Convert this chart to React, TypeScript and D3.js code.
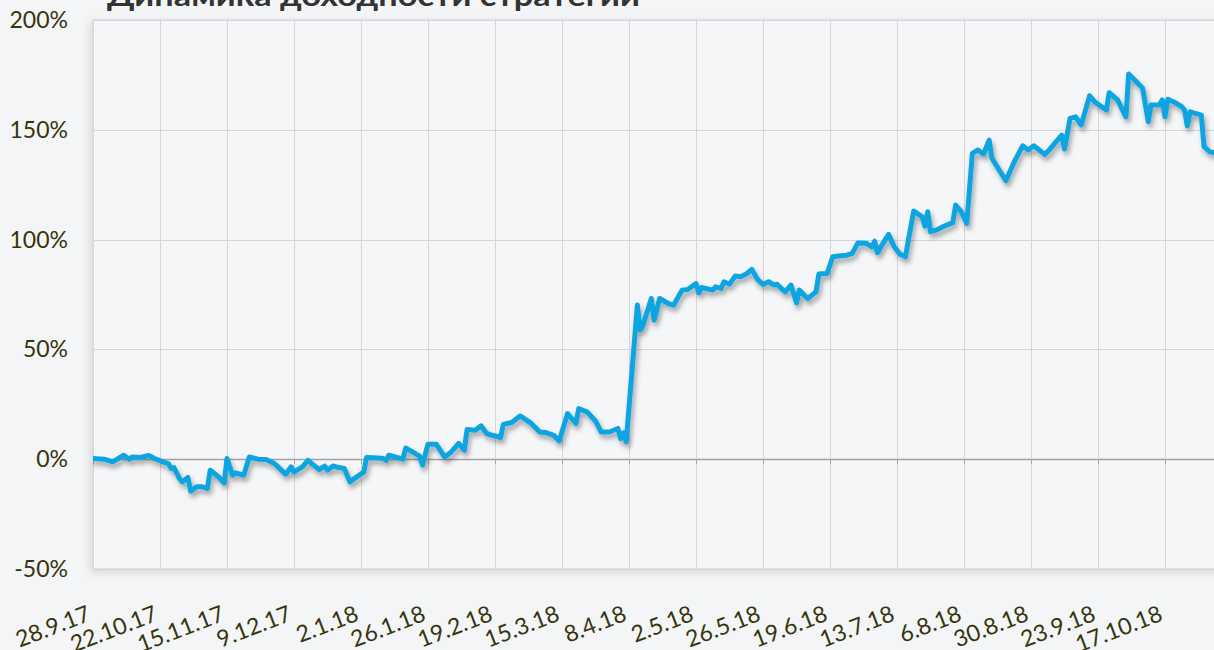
import React from "react";
import * as d3 from "d3";

const startDate = new Date(2017, 8, 28);
const tickLabels = [
  "28.9.17", "22.10.17", "15.11.17", "9.12.17", "2.1.18", "26.1.18", "19.2.18", "15.3.18",
  "8.4.18", "2.5.18", "26.5.18", "19.6.18", "13.7.18", "6.8.18", "30.8.18", "23.9.18", "17.10.18",
];
const tickStepDays = 24;
const yTicks = [-50, 0, 50, 100, 150, 200];

// days since 28.9.17
const days = [
  0, 4, 7, 9, 11, 13, 14, 17, 20, 22, 25, 27, 28, 29, 31, 32, 34, 35, 37, 39, 41, 42, 45, 47, 48, 50, 51, 54, 56, 59,
  62, 65, 69, 71, 72, 75, 77, 79, 81, 83, 84, 86, 88, 90, 92, 94, 97, 98, 102, 104, 105, 106, 111, 112, 115, 117, 118,
  120, 123, 126, 128, 131, 133, 134, 137, 139, 141, 143, 146, 147, 150, 153, 157, 160, 162, 165, 167, 170, 172, 173,
  174, 177, 180, 182, 185, 188, 189, 190, 191, 195, 196, 197, 200, 201, 203, 206, 208, 211, 213, 216, 217, 218, 222,
  223, 225, 226, 228, 230, 232, 234, 236, 238, 240, 242, 244, 245, 247, 248, 250, 252, 253, 256, 259, 260, 263, 265,
  267, 270, 272, 274, 277, 279, 280, 281, 283, 285, 287, 289, 291, 294, 297, 298, 299, 300, 302, 305, 308, 309, 311,
  313, 315, 317, 319, 321, 322, 325, 327, 330, 333, 335, 337, 341, 343, 347, 348, 350, 352, 354, 357, 359, 363, 364,
  367, 370, 371, 376, 378, 379, 382, 383, 384, 385, 387, 390, 391, 392, 393, 397, 398, 400, 402,
];
// strategy return, %
const returns = [
  0.3, 0, -1.2, 0.3, 1.8, 0, 1.0, 0.8, 1.7, 0.3, -1.2, -2.0, -4.2, -3.8, -8.8, -10.3, -8.3, -14.6, -12.6, -12.6, -13.3,
  -5.0, -8.1, -10.8, 0.3, -7.3, -6.2, -7.3, 1.0, 0, -0.1, -2.0, -6.8, -3.5, -5.8, -3.5, -0.5, -2.7, -4.7, -3.2, -5.0,
  -3.1, -3.8, -4.2, -10.3, -8.5, -5.8, 0.8, 0.6, 0.3, -0.5, 1.8, 0, 5.1, 2.9, 1.4, -2.7, 6.8, 6.8, 1.0, 2.9, 7.2, 4.1,
  13.5, 13.2, 15.2, 11.7, 10.9, 9.9, 15.8, 16.7, 19.7, 16.3, 12.4, 12.2, 10.9, 8.3, 20.8, 17.8, 16.3, 23.1, 21.5, 17.4,
  12.4, 12.4, 14.0, 9.4, 12.0, 7.9, 70.2, 58.8, 61.0, 73.2, 63.3, 73.2, 70.9, 70.2, 77.0, 77.3, 80.0, 75.8, 78.2, 77.0,
  78.5, 77.8, 80.8, 79.7, 83.4, 83.1, 84.3, 86.4, 81.9, 79.6, 80.8, 79.3, 79.7, 77.3, 76.2, 79.3, 71.2, 77.0, 73.2,
  76.2, 84.3, 84.6, 92.2, 92.5, 92.9, 93.7, 98.5, 98.3, 96.7, 99.3, 94.0, 98.3, 102.4, 96.7, 93.4, 92.2, 113.0, 110.4,
  106.2, 112.7, 103.6, 104.3, 106.2, 107.7, 115.7, 112.7, 107.4, 139.3, 140.8, 139.0, 145.3, 137.1, 130.9, 126.8,
  135.4, 142.7, 140.8, 142.7, 138.8, 141.5, 147.6, 141.2, 155.2, 155.9, 152.2, 165.5, 162.5, 159.0, 166.9, 163.6,
  155.9, 175.4, 168.9, 153.7, 161.3, 161.3, 163.6, 155.9, 163.9, 162.8, 160.5, 159.0, 151.7, 158.2, 156.7, 142.3,
  140.0, 139.5,
];

const W = 1214;
const H = 650;
const FONT = "Lato, 'Open Sans', sans-serif";
const TEXT = "#35350c";

const addDays = (d: Date, n: number) => d3.timeDay.offset(d, n);

export default function App() {
  const x = d3
    .scaleTime()
    .domain([startDate, addDays(startDate, tickStepDays * (tickLabels.length - 1))])
    .range([93, 1165]);
  const y = d3.scaleLinear().domain([-50, 200]).range([569, 20]);
  const plotLeft = 93;
  const plotRight = 1240;
  const data = days.map((d, i) => ({ date: addDays(startDate, d), v: returns[i] }));
  const line = d3
    .line<{ date: Date; v: number }>()
    .x((d) => x(d.date))
    .y((d) => y(d.v))
    .curve(d3.curveLinear);

  const gridDates: Date[] = [];
  for (let i = 0; ; i++) {
    const dt = addDays(startDate, i * tickStepDays);
    if (x(dt) > W) break;
    gridDates.push(dt);
  }

  return (
    <svg
      width={W}
      height={H}
      style={{ position: "absolute", left: 0, top: 0, display: "block" }}
      fontFamily={FONT}
    >
      <defs>
        <filter id="cardShadow" x="-5%" y="-5%" width="110%" height="110%">
          <feDropShadow dx={-2} dy={3} stdDeviation={4} floodColor="#000" floodOpacity={0.13} />
        </filter>
        <filter id="lineShadow" x="-5%" y="-10%" width="110%" height="120%">
          <feDropShadow dx={2} dy={4} stdDeviation={2.5} floodColor="#000" floodOpacity={0.35} />
        </filter>
        <clipPath id="plotClip">
          <rect x={plotLeft} y={0} width={plotRight - plotLeft} height={575} />
        </clipPath>
      </defs>
      <rect x={0} y={0} width={W} height={H} fill="#f4f5f7" />
      <text
        x={107}
        y={6}
        fontSize={29}
        fontWeight={700}
        fill="#333"
        textLength={533}
        lengthAdjust="spacingAndGlyphs"
      >
        Динамика доходности стратегии
      </text>
      <rect
        x={plotLeft}
        y={y(200)}
        width={plotRight - plotLeft}
        height={y(-50) - y(200)}
        fill="#f5f6f8"
        stroke="#cfd0d3"
        strokeWidth={1}
        filter="url(#cardShadow)"
      />
      {/* horizontal grid */}
      {yTicks.map((t) => (
        <line
          key={"h" + t}
          x1={plotLeft}
          x2={plotRight}
          y1={Math.round(y(t)) + 0.5}
          y2={Math.round(y(t)) + 0.5}
          stroke={t === 0 ? "#a3a3a3" : "#d6d6d8"}
          strokeWidth={t === 0 ? 1.5 : 1}
        />
      ))}
      {/* vertical grid */}
      {gridDates.map((d, i) => (
        <g key={"v" + i}>
          <line
            x1={Math.round(x(d)) + 0.5}
            x2={Math.round(x(d)) + 0.5}
            y1={y(200)}
            y2={y(-50)}
            stroke="#d6d6d8"
            strokeWidth={1}
          />
          <line
            x1={Math.round(x(d)) + 0.5}
            x2={Math.round(x(d)) + 0.5}
            y1={y(0)}
            y2={y(0) + 5}
            stroke="#a3a3a3"
            strokeWidth={1}
          />
        </g>
      ))}
      {/* y labels */}
      {yTicks.map((t) => (
        <text key={"yl" + t} x={68} y={y(t) + 8} textAnchor="end" fontSize={23} fill={TEXT}>
          {t + "%"}
        </text>
      ))}
      {/* x labels */}
      {tickLabels.map((lab, i) => {
        const tx = x(addDays(startDate, i * tickStepDays)) - 1;
        const ty = 620;
        return (
          <text
            key={"xl" + i}
            x={tx}
            y={ty}
            textAnchor="end"
            fontSize={23}
            fill={TEXT}
            transform={`rotate(-21 ${tx} ${ty})`}
          >
            {lab}
          </text>
        );
      })}
      <g clipPath="url(#plotClip)">
        <path
          d={line(data) || ""}
          fill="none"
          stroke="#11a5e1"
          strokeWidth={5}
          strokeLinejoin="round"
          strokeLinecap="round"
          filter="url(#lineShadow)"
        />
      </g>
    </svg>
  );
}
